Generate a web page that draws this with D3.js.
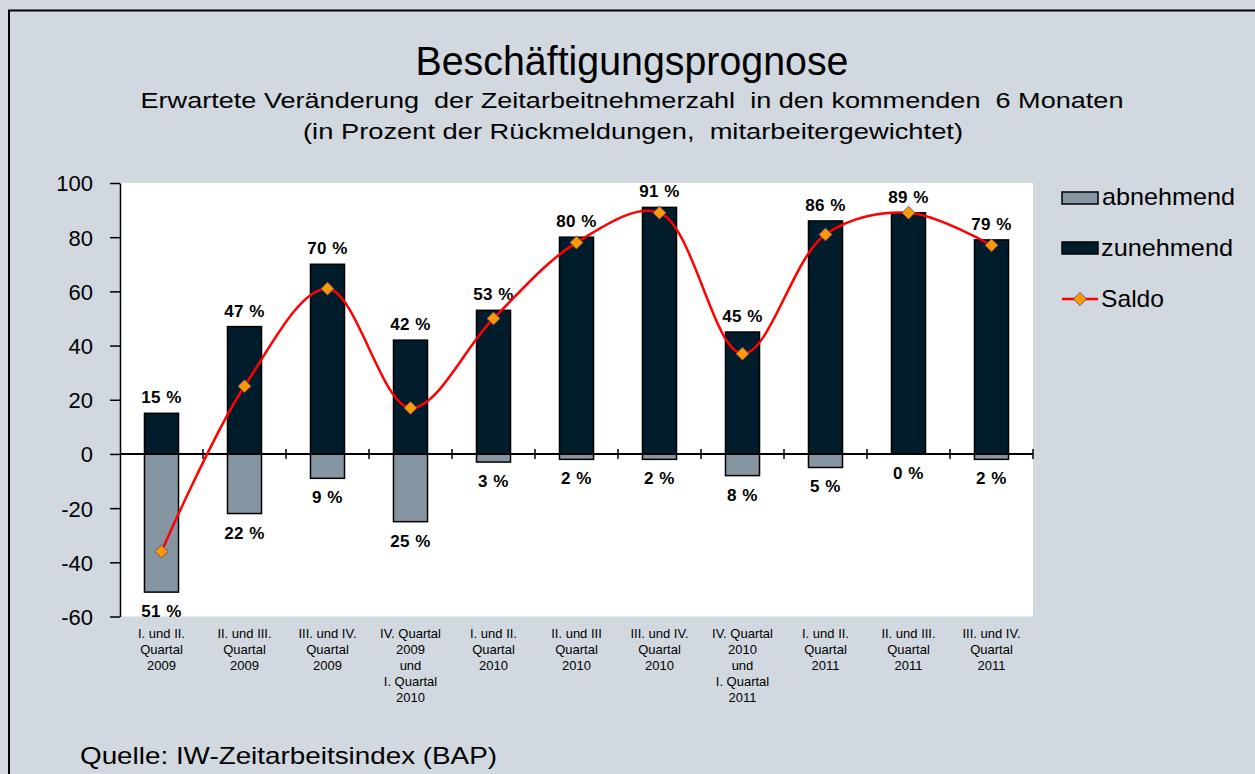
<!DOCTYPE html>
<html>
<head>
<meta charset="utf-8">
<script src="https://cdn.jsdelivr.net/npm/d3@7"></script>
<style>
  html, body { margin: 0; padding: 0; background: #d1d8df; }
  svg { display: block; }
  text { font-family: "Liberation Sans", Arial, sans-serif; }
</style>
</head>
<body>
<svg id="chart"></svg>
<script>
var width = 1255;
var height = 774;

// data
var categories = [
  'I. und II.|Quartal|2009',
  'II. und III.|Quartal|2009',
  'III. und IV.|Quartal|2009',
  'IV. Quartal|2009|und|I. Quartal|2010',
  'I. und II.|Quartal|2010',
  'II. und III|Quartal|2010',
  'III. und IV.|Quartal|2010',
  'IV. Quartal|2010|und|I. Quartal|2011',
  'I. und II.|Quartal|2011',
  'II. und III.|Quartal|2011',
  'III. und IV.|Quartal|2011'
];
var zunehmend = [15, 47, 70, 42, 53, 80, 91, 45, 86, 89, 79];
var abnehmend = [51, 22, 9, 25, 3, 2, 2, 8, 5, 0, 2];
var saldo = [-36, 25, 61, 17, 50, 78, 89, 37, 81, 89, 77];
var yTicks = [-60, -40, -20, 0, 20, 40, 60, 80, 100];

var colUp = '#011c2b';
var colDown = '#8595a1';
var colLine = '#ff0000';
var colMarker = '#ff9900';

var svg = d3.select('#chart')
  .attr('width', width)
  .attr('height', height);

svg.append('rect')
  .attr('x', 0).attr('y', 0)
  .attr('width', width).attr('height', height)
  .attr('fill', '#d1d8df');

// outer frame (right and bottom edges run off the picture)
svg.append('rect')
  .attr('x', 9).attr('y', 10.5)
  .attr('width', width + 20).attr('height', height + 20)
  .attr('fill', 'none')
  .attr('stroke', '#000')
  .attr('stroke-width', 2);

// titles
svg.append('text')
  .attr('x', 632).attr('y', 75)
  .attr('text-anchor', 'middle')
  .attr('font-size', 41)
  .attr('textLength', 433)
  .attr('lengthAdjust', 'spacingAndGlyphs')
  .text('Beschäftigungsprognose');

svg.append('text')
  .attr('x', 632).attr('y', 108)
  .attr('text-anchor', 'middle')
  .attr('font-size', 22)
  .attr('textLength', 983)
  .attr('lengthAdjust', 'spacingAndGlyphs')
  .style('white-space', 'pre')
  .text('Erwartete Veränderung  der Zeitarbeitnehmerzahl  in den kommenden  6 Monaten');

svg.append('text')
  .attr('x', 633).attr('y', 139)
  .attr('text-anchor', 'middle')
  .attr('font-size', 22)
  .attr('textLength', 660)
  .attr('lengthAdjust', 'spacingAndGlyphs')
  .style('white-space', 'pre')
  .text('(in Prozent der Rückmeldungen,  mitarbeitergewichtet)');

// scales
var x = d3.scaleBand()
  .domain(categories)
  .range([120, 1033]);

var y = d3.scaleLinear()
  .domain([-60, 100])
  .range([616.5, 183]);

var barW = x.bandwidth() * 0.41;

// plot area
svg.append('rect')
  .attr('x', 120).attr('y', y(100))
  .attr('width', 1033 - 120).attr('height', y(-60) - y(100))
  .attr('fill', '#fff');

// bars
var bars = svg.append('g');
bars.selectAll('rect.up')
  .data(zunehmend)
  .enter().append('rect')
  .attr('class', 'up')
  .attr('x', function(d, i) { return x(categories[i]) + (x.bandwidth() - barW) / 2; })
  .attr('y', function(d) { return y(d); })
  .attr('width', barW)
  .attr('height', function(d) { return y(0) - y(d); })
  .attr('fill', colUp)
  .attr('stroke', '#000')
  .attr('stroke-width', 1.5);

bars.selectAll('rect.down')
  .data(abnehmend)
  .enter().append('rect')
  .attr('class', 'down')
  .attr('x', function(d, i) { return x(categories[i]) + (x.bandwidth() - barW) / 2; })
  .attr('y', y(0))
  .attr('width', barW)
  .attr('height', function(d) { return y(-d) - y(0); })
  .attr('fill', colDown)
  .attr('stroke', '#000')
  .attr('stroke-width', 1.5);

// zero line with crossing ticks at category borders
var xAxis = svg.append('g').attr('transform', 'translate(0,' + y(0) + ')');
xAxis.append('line')
  .attr('x1', 120).attr('x2', 1033)
  .attr('stroke', '#000').attr('stroke-width', 2);
xAxis.selectAll('line.tk')
  .data(categories.slice(1).concat(['end']))
  .enter().append('line')
  .attr('class', 'tk')
  .attr('x1', function(d) { return d === 'end' ? 1033 : x(d); })
  .attr('x2', function(d) { return d === 'end' ? 1033 : x(d); })
  .attr('y1', -5).attr('y2', 5)
  .attr('stroke', '#000').attr('stroke-width', 1.5);

// y axis
var yAxis = svg.append('g')
  .attr('transform', 'translate(120,0)')
  .call(d3.axisLeft(y)
    .tickValues(yTicks)
    .tickFormat(function(d) { return String(d); })
    .tickSize(10).tickSizeOuter(0).tickPadding(17));
yAxis.select('.domain').attr('stroke', '#000').attr('stroke-width', 1.5);
yAxis.selectAll('.tick line').attr('stroke', '#000').attr('stroke-width', 1.5);
yAxis.selectAll('.tick text')
  .attr('font-family', '"Liberation Sans", Arial, sans-serif')
  .attr('font-size', 22)
  .attr('fill', '#000')
  .attr('dy', '0.36em');

// category labels
categories.forEach(function(c) {
  var t = svg.append('text')
    .attr('x', x(c) + x.bandwidth() / 2)
    .attr('y', 638)
    .attr('text-anchor', 'middle')
    .attr('font-size', 13)
    .attr('fill', '#000');
  c.split('|').forEach(function(line, k) {
    t.append('tspan')
      .attr('x', x(c) + x.bandwidth() / 2)
      .attr('dy', k === 0 ? 0 : 16)
      .text(line);
  });
});

// value labels
svg.selectAll('text.upLbl')
  .data(zunehmend)
  .enter().append('text')
  .attr('class', 'upLbl')
  .attr('x', function(d, i) { return x(categories[i]) + x.bandwidth() / 2; })
  .attr('y', function(d) { return y(d) - 10; })
  .attr('text-anchor', 'middle')
  .attr('font-size', 17)
  .attr('font-weight', 'bold')
  .style('letter-spacing', '0.5px')
  .text(function(d) { return d + ' %'; });

svg.selectAll('text.downLbl')
  .data(abnehmend)
  .enter().append('text')
  .attr('class', 'downLbl')
  .attr('x', function(d, i) { return x(categories[i]) + x.bandwidth() / 2; })
  .attr('y', function(d) { return y(-d) + 25; })
  .attr('text-anchor', 'middle')
  .attr('font-size', 17)
  .attr('font-weight', 'bold')
  .style('letter-spacing', '0.5px')
  .text(function(d) { return d + ' %'; });

// saldo line
var line = d3.line()
  .x(function(d, i) { return x(categories[i]) + x.bandwidth() / 2; })
  .y(function(d) { return y(d); })
  .curve(d3.curveCatmullRom.alpha(0.5));

svg.append('path')
  .datum(saldo)
  .attr('d', line)
  .attr('fill', 'none')
  .attr('stroke', colLine)
  .attr('stroke-width', 2.5);

var diamond = d3.symbol().type(d3.symbolDiamond2).size(110);
svg.selectAll('path.mk')
  .data(saldo)
  .enter().append('path')
  .attr('class', 'mk')
  .attr('d', diamond)
  .attr('transform', function(d, i) {
    return 'translate(' + (x(categories[i]) + x.bandwidth() / 2) + ',' + y(d) + ')';
  })
  .attr('fill', colMarker)
  .attr('stroke', '#4b3c8c')
  .attr('stroke-width', 0.8);

// legend
var legend = svg.append('g');
legend.append('rect')
  .attr('x', 1062).attr('y', 192).attr('width', 36).attr('height', 12)
  .attr('fill', colDown).attr('stroke', '#000').attr('stroke-width', 1.5);
legend.append('text')
  .attr('x', 1102).attr('y', 205)
  .attr('font-size', 24)
  .attr('textLength', 133).attr('lengthAdjust', 'spacingAndGlyphs')
  .text('abnehmend');

legend.append('rect')
  .attr('x', 1062).attr('y', 242).attr('width', 36).attr('height', 12)
  .attr('fill', colUp).attr('stroke', '#000').attr('stroke-width', 1.5);
legend.append('text')
  .attr('x', 1101).attr('y', 256)
  .attr('font-size', 24)
  .attr('textLength', 132).attr('lengthAdjust', 'spacingAndGlyphs')
  .text('zunehmend');

legend.append('line')
  .attr('x1', 1062).attr('x2', 1098).attr('y1', 299).attr('y2', 299)
  .attr('stroke', colLine).attr('stroke-width', 2.5);
legend.append('path')
  .attr('d', diamond)
  .attr('transform', 'translate(1080,299)')
  .attr('fill', colMarker).attr('stroke', '#4b3c8c').attr('stroke-width', 0.8);
legend.append('text')
  .attr('x', 1101).attr('y', 307)
  .attr('font-size', 24)
  .attr('textLength', 63).attr('lengthAdjust', 'spacingAndGlyphs')
  .text('Saldo');

// source
svg.append('text')
  .attr('x', 80).attr('y', 764)
  .attr('font-size', 24)
  .attr('textLength', 417).attr('lengthAdjust', 'spacingAndGlyphs')
  .text('Quelle: IW-Zeitarbeitsindex (BAP)');
</script>
</body>
</html>
